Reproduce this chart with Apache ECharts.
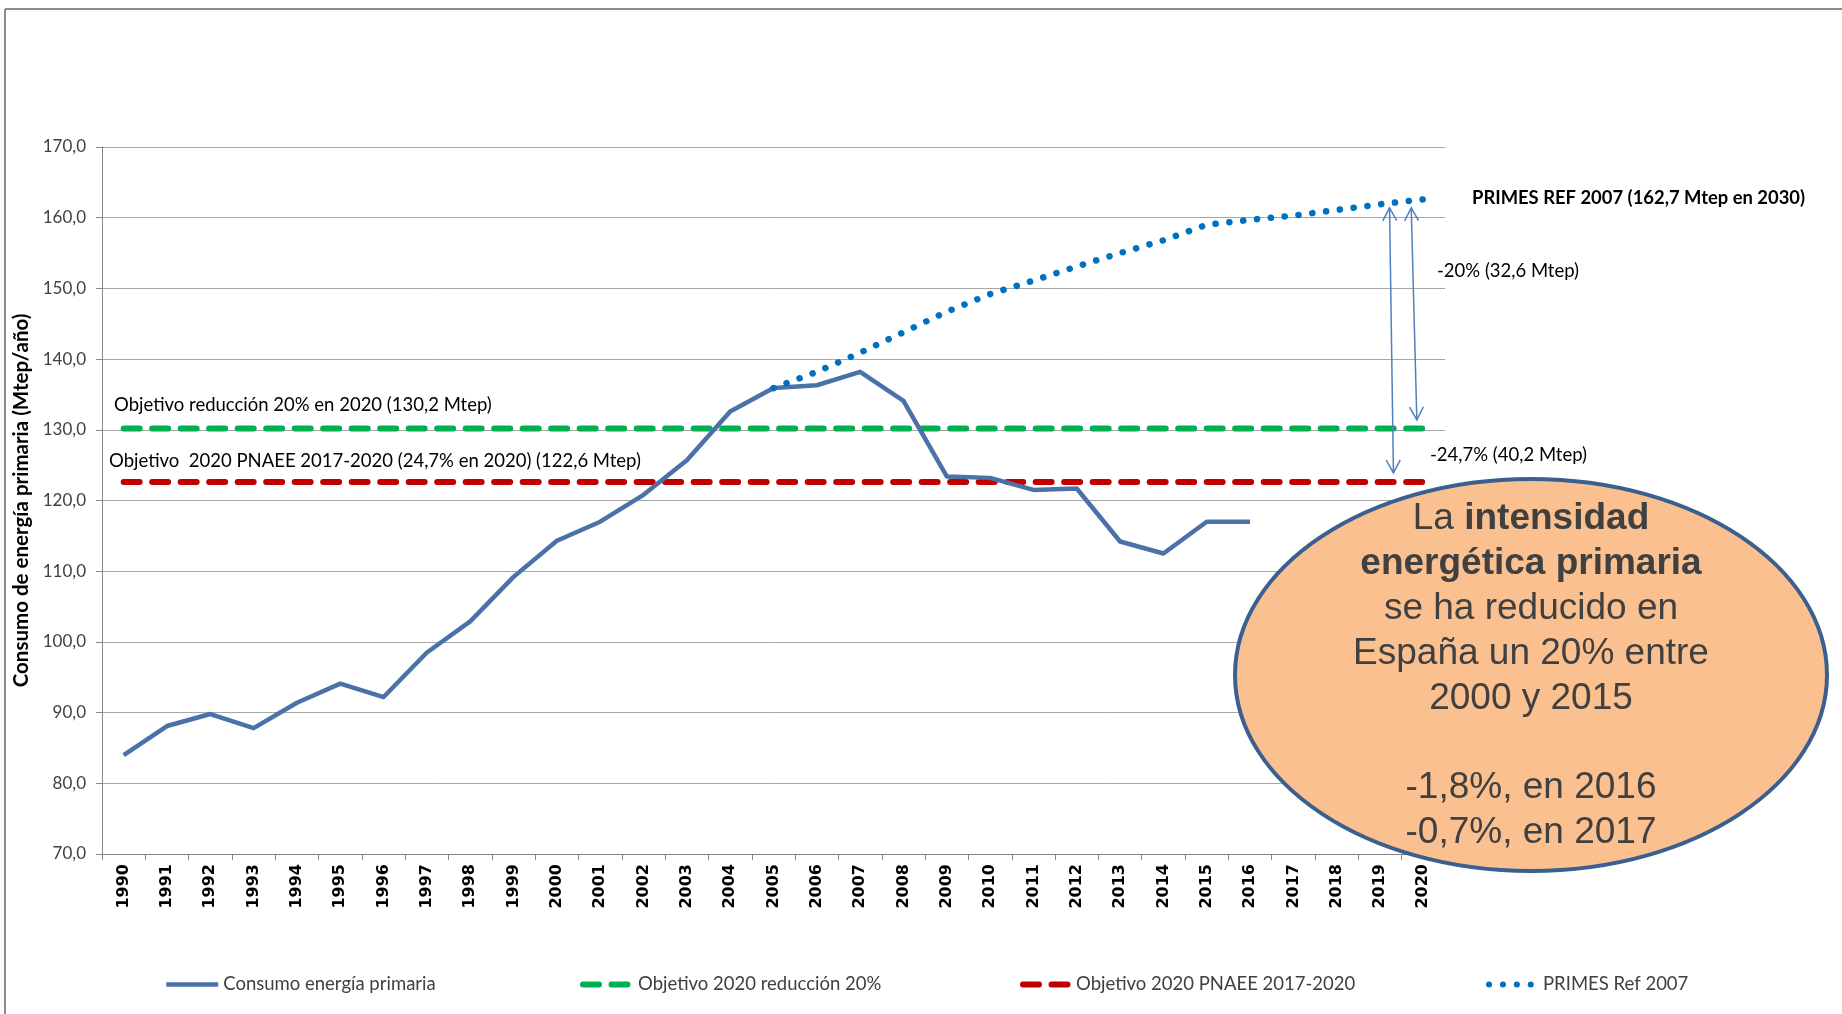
<!DOCTYPE html>
<html lang="es">
<head>
<meta charset="utf-8">
<script src="https://cdn.jsdelivr.net/npm/echarts@6/dist/echarts.min.js"></script>
<style>
  html, body { margin: 0; padding: 0; background: #fff; }
  #main { width: 1842px; height: 1014px; }
</style>
</head>
<body>
<div id="main"></div>
<script>
// años del eje X
var years = ['1990','1991','1992','1993','1994','1995','1996','1997','1998','1999',
             '2000','2001','2002','2003','2004','2005','2006','2007','2008','2009',
             '2010','2011','2012','2013','2014','2015','2016','2017','2018','2019','2020'];

// Consumo energía primaria (Mtep/año)
var consumo = [84.0, 88.1, 89.8, 87.8, 91.4, 94.1, 92.2, 98.5, 102.9, 109.2,
               114.3, 117.0, 120.8, 125.7, 132.6, 135.9, 136.3, 138.2, 134.1, 123.4,
               123.2, 121.5, 121.7, 114.2, 112.5, 117.0, 117.0, null, null, null, null];

// Objetivo 2020 reducción 20%
var objetivo20 = [130.2, 130.2, 130.2, 130.2, 130.2, 130.2, 130.2, 130.2, 130.2, 130.2,
                  130.2, 130.2, 130.2, 130.2, 130.2, 130.2, 130.2, 130.2, 130.2, 130.2,
                  130.2, 130.2, 130.2, 130.2, 130.2, 130.2, 130.2, 130.2, 130.2, 130.2, 130.2];

// Objetivo 2020 PNAEE 2017-2020
var pnaee = [122.6, 122.6, 122.6, 122.6, 122.6, 122.6, 122.6, 122.6, 122.6, 122.6,
             122.6, 122.6, 122.6, 122.6, 122.6, 122.6, 122.6, 122.6, 122.6, 122.6,
             122.6, 122.6, 122.6, 122.6, 122.6, 122.6, 122.6, 122.6, 122.6, 122.6, 122.6];

// PRIMES Ref 2007
var primes = [null, null, null, null, null, null, null, null, null, null,
              null, null, null, null, null, 135.9, 138.2, 140.9, 143.8, 146.7,
              149.2, 151.1, 153.1, 155.0, 156.8, 159.0, 159.7, 160.3, 161.1, 161.9, 162.6];

var nombres = ['Consumo energía primaria', 'Objetivo 2020 reducción 20%',
               'Objetivo 2020 PNAEE 2017-2020', 'PRIMES Ref 2007'];

var legendText = { fontFamily: 'Lato', fontSize: 18.5, color: '#404040' };
function leyenda(nombre, x, w, lw) {
    return {
        data: [nombre], left: x, top: 975, padding: 0, itemGap: 0,
        itemWidth: w, itemHeight: 14,
        itemStyle: { opacity: 0 },
        lineStyle: { width: lw },
        textStyle: legendText
    };
}

var chart = echarts.init(document.getElementById('main'));

var option = {
    animation: false,
    backgroundColor: '#fff',
    grid: { left: 102, right: 397, top: 147, bottom: 160, containLabel: false, outerBoundsMode: 'none' },
    legend: [
        leyenda(nombres[0], 164, 52, 4.5),
        leyenda(nombres[1], 580, 50, 6),
        leyenda(nombres[2], 1020, 48, 6),
        leyenda(nombres[3], 1486, 49, 6)
    ],
    xAxis: {
        type: 'category',
        data: years,
        boundaryGap: true,
        axisLine: { lineStyle: { color: '#868686', width: 1 } },
        axisTick: { show: true, interval: 0, length: 6, lineStyle: { color: '#868686' } },
        axisLabel: {
            interval: 0, rotate: 90, margin: 10,
            fontFamily: 'DejaVu Sans', fontWeight: 'bold', fontSize: 16, color: '#000'
        },
        splitLine: { show: false }
    },
    yAxis: {
        type: 'value',
        min: 70, max: 170, interval: 10,
        name: 'Consumo de energía primaria (Mtep/año)',
        nameLocation: 'middle', nameRotate: 90, nameGap: 70,
        nameTextStyle: { fontFamily: 'Lato', fontWeight: 'bold', fontSize: 20.5, color: '#000' },
        axisLine: { show: true, lineStyle: { color: '#868686', width: 1 } },
        axisTick: { show: true, length: 6, lineStyle: { color: '#868686' } },
        axisLabel: {
            margin: 16, fontFamily: 'Lato', fontSize: 17, color: '#404040',
            formatter: function (v) { return v.toFixed(1).replace('.', ','); }
        },
        splitLine: { lineStyle: { color: '#a6a6a6', width: 1 } }
    },
    series: [
        {
            name: nombres[0], type: 'line', data: consumo, symbol: 'none', z: 3,
            lineStyle: { color: '#4a72a9', width: 4.5, join: 'round' },
            itemStyle: { color: '#4a72a9' }
        },
        {
            name: nombres[1], type: 'line', data: objetivo20, symbol: 'none', z: 2,
            lineStyle: { color: '#00b050', width: 6, type: [16, 12.5], cap: 'round' },
            itemStyle: { color: '#00b050' }
        },
        {
            name: nombres[2], type: 'line', data: pnaee, symbol: 'none', z: 2,
            lineStyle: { color: '#c00000', width: 6, type: [16, 12.5], cap: 'round' },
            itemStyle: { color: '#c00000' }
        },
        {
            name: nombres[3], type: 'line', data: primes, symbol: 'none', z: 4,
            lineStyle: { color: '#0070c0', width: 6.5, type: [0.1, 13.8], cap: 'round' },
            itemStyle: { color: '#0070c0' }
        }
    ]
};

chart.setOption(option);

// posición en píxeles de un índice de categoría (fraccionario) y un valor
function px(idx, val) {
    var i0 = Math.floor(idx), f = idx - i0;
    var a = chart.convertToPixel({ xAxisIndex: 0, yAxisIndex: 0 }, [i0, val]);
    var b = chart.convertToPixel({ xAxisIndex: 0, yAxisIndex: 0 }, [i0 + 1, val]);
    return [a[0] + (b[0] - a[0]) * f, a[1]];
}

function flecha(p1, p2) {
    var col = '#4f81bd', L = 13, W = 7;
    var dx = p2[0] - p1[0], dy = p2[1] - p1[1];
    var len = Math.sqrt(dx * dx + dy * dy);
    var ux = dx / len, uy = dy / len, nx = -uy, ny = ux;
    function punta(t, s) {
        return [[t[0] - s * ux * L + nx * W, t[1] - s * uy * L + ny * W], t,
                [t[0] - s * ux * L - nx * W, t[1] - s * uy * L - ny * W]];
    }
    return [
        { type: 'line', shape: { x1: p1[0], y1: p1[1], x2: p2[0], y2: p2[1] }, style: { stroke: col, lineWidth: 1.5 }, z: 20 },
        { type: 'polyline', shape: { points: punta(p1, -1) }, style: { stroke: col, lineWidth: 1.5, fill: null }, z: 20 },
        { type: 'polyline', shape: { points: punta(p2, 1) }, style: { stroke: col, lineWidth: 1.5, fill: null }, z: 20 }
    ];
}

var g = [];
// marco
g.push({ type: 'line', shape: { x1: 5, y1: 9, x2: 1842, y2: 9 }, style: { stroke: '#8c8c8c', lineWidth: 2 } });
g.push({ type: 'line', shape: { x1: 5, y1: 9, x2: 5, y2: 1014 }, style: { stroke: '#8c8c8c', lineWidth: 2 } });

g = g.concat(flecha(px(29.22, 161.4), px(29.31, 123.9)));
g = g.concat(flecha(px(29.72, 161.4), px(29.85, 131.4)));

var txt = function (x, y, s, extra) {
    var st = { text: s, font: "18.5px Lato", fill: '#000', textAlign: 'left', verticalAlign: 'middle' };
    for (var k in extra) st[k] = extra[k];
    return { type: 'text', x: x, y: y, style: st, z: 15 };
};
g.push(txt(114, 405, 'Objetivo reducción 20% en 2020 (130,2 Mtep)'));
g.push(txt(109, 461, 'Objetivo  2020 PNAEE 2017-2020 (24,7% en 2020) (122,6 Mtep)'));
g.push(txt(1472, 198, 'PRIMES REF 2007 (162,7 Mtep en 2030)', { font: "bold 18.4px Lato" }));
g.push(txt(1437, 271, '-20% (32,6 Mtep)'));
g.push(txt(1430, 455, '-24,7% (40,2 Mtep)'));

// elipse con el texto
g.push({
    type: 'ellipse', z: 30,
    shape: { cx: 1531, cy: 675, rx: 296, ry: 196 },
    style: { fill: '#fac090', stroke: '#3b5f8f', lineWidth: 4 }
});
g.push({
    type: 'text', z: 31, x: 1531, y: 676,
    style: {
        text: 'La {b|intensidad}\n{b|energética primaria}\nse ha reducido en\nEspaña un 20% entre\n2000 y 2015\n\n-1,8%, en 2016\n-0,7%, en 2017',
        font: "37px 'Liberation Sans'", fill: '#404040', lineHeight: 44.8,
        textAlign: 'center', verticalAlign: 'middle',
        rich: { b: { fontWeight: 'bold', fontSize: 37, fontFamily: 'Liberation Sans', fill: '#404040', lineHeight: 44.8 } }
    }
});

chart.setOption({ graphic: g });
</script>
</body>
</html>
